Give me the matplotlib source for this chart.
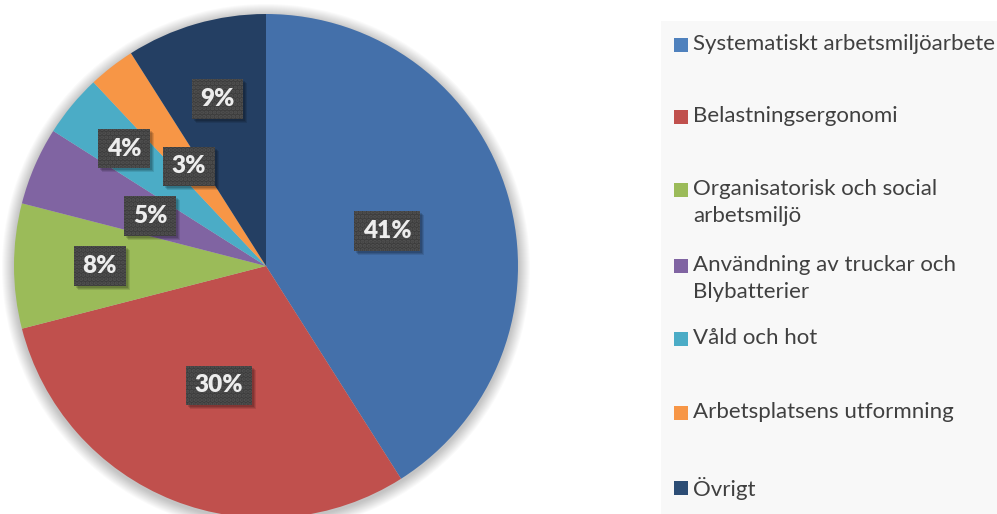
import matplotlib
matplotlib.use("Agg")
import numpy as np
import matplotlib.pyplot as plt
from matplotlib.patches import Rectangle, Circle

categories = ["Systematiskt arbetsmiljöarbete", "Belastningsergonomi",
              "Organisatorisk och social\narbetsmiljö",
              "Användning av truckar och\nBlybatterier",
              "Våld och hot", "Arbetsplatsens utformning", "Övrigt"]
values = [41, 30, 8, 5, 4, 3, 9]
pct_labels = ["41%", "30%", "8%", "5%", "4%", "3%", "9%"]

pie_colors = ["#4470aa", "#c0504d", "#9bbb59", "#8064a2", "#4bacc6", "#f79646", "#243f63"]
legend_colors = ["#4f81bd", "#c0504d", "#9bbb59", "#8064a2", "#4bacc6", "#f79646", "#2c4d75"]
label_dist = [0.50, 0.51, 0.66, 0.50, 0.73, 0.50, 0.69]

W, H = 997, 514
fig = plt.figure(figsize=(W / 100, H / 100), dpi=100)
ax = fig.add_axes([0, 0, 1, 1])
ax.set_xlim(0, W)
ax.set_ylim(0, H)
ax.axis("off")

cx, cy, R = 266, H - 266, 252

# soft shadow
for k in range(1, 13):
    ax.add_patch(Circle((cx, cy - 2), R + k, facecolor="black", edgecolor="none",
                        alpha=0.018, zorder=0))

wedges, _ = ax.pie(values, colors=pie_colors, startangle=90, counterclock=False,
                   radius=R, center=(cx, cy), wedgeprops=dict(linewidth=0))
ax.set_xlim(0, W)
ax.set_ylim(0, H)
ax.set_aspect("equal", adjustable="box")

plt.rcParams["hatch.linewidth"] = 2.0
texts = []
for w, lab, d in zip(wedges, pct_labels, label_dist):
    ang = np.deg2rad((w.theta1 + w.theta2) / 2)
    x = cx + d * R * np.cos(ang)
    y = cy + d * R * np.sin(ang)
    t = ax.text(x, y, lab, ha="center", va="center", fontsize=17.5, fontweight="heavy",
                family="Lato", color="#ededed", zorder=5,
                bbox=dict(boxstyle="square,pad=0.36", facecolor="#3c3c3c", edgecolor="#525252",
                          linewidth=0, hatch="...."))
    texts.append(t)

fig.canvas.draw()
renderer = fig.canvas.get_renderer()
inv = ax.transData.inverted()
for t in texts:
    bb = t.get_bbox_patch().get_window_extent(renderer)
    (x0, y0), (x1, y1) = inv.transform([(bb.x0, bb.y0), (bb.x1, bb.y1)])
    for s, a in ((4, 0.10), (3, 0.12), (2, 0.14)):
        ax.add_patch(Rectangle((x0 + s, y0 - s), x1 - x0, y1 - y0, facecolor="black",
                               edgecolor="none", alpha=a, zorder=4))

# legend panel
ax.add_patch(Rectangle((661, 0), W - 661, H - 21, facecolor="#f8f8f8", edgecolor="none", zorder=1))
line_y = [45, 117, 190, 266, 339, 413, 488]
for lab, col, ly in zip(categories, legend_colors, line_y):
    yy = H - ly
    ax.add_patch(Rectangle((674, yy - 7), 14, 14, facecolor=col, edgecolor="none", zorder=2))
    ax.text(693, yy + 11, lab, ha="left", va="top", fontsize=16, family="Lato",
            color="#404040", zorder=3, linespacing=1.42)

fig.savefig("out.png", dpi=100)
